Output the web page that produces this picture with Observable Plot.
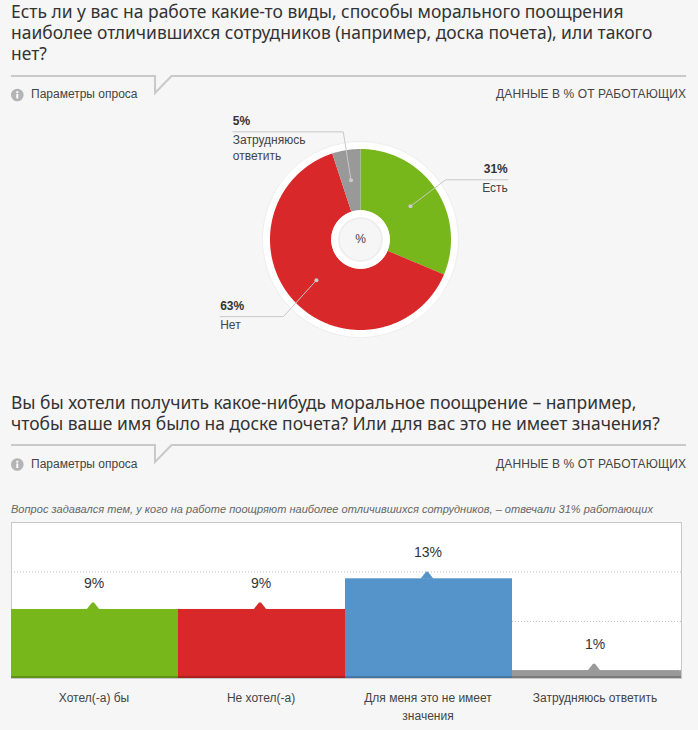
<!DOCTYPE html>
<html lang="ru"><head><meta charset="utf-8">
<script src="https://cdn.jsdelivr.net/npm/d3@7"></script>
<script src="https://cdn.jsdelivr.net/npm/@observablehq/plot@0.6"></script>
<style>
html,body{margin:0;padding:0;background:#f6f6f6;}
body{position:relative;width:698px;height:730px;overflow:hidden;font-family:"Liberation Sans",Arial,sans-serif;color:#444;}
.abs{position:absolute;}
.title{left:11px;width:680px;font:400 17.45px/21px "Noto Sans",sans-serif;color:#333;margin:0;white-space:nowrap;}
.small{font-size:12px;line-height:14px;color:#444;white-space:nowrap;}
.note{left:11px;top:503px;font:italic 11px/13px "Liberation Sans",Arial,sans-serif;letter-spacing:.03px;color:#666;white-space:nowrap;}
svg{display:block;}
.plot{position:absolute;left:0;}
</style></head>
<body>
<h2 class="abs title" style="top:1px">Есть ли у вас на работе какие-то виды, способы морального поощрения<br>наиболее отличившихся сотрудников (например, доска почета), или такого<br>нет?</h2>
<h2 class="abs title" style="top:392px">Вы бы хотели получить какое-нибудь моральное поощрение – например,<br>чтобы ваше имя было на доске почета? Или для вас это не имеет значения?</h2>
<div class="abs note">Вопрос задавался тем, у кого на работе поощряют наиболее отличившихся сотрудников, – отвечали 31% работающих</div>
<script>
// ---- data ----
const pieLabels = ["Есть", "Нет", "Затрудняюсь\nответить"];
const pieValues = [31, 63, 5];
const pieColors = ["#78b71b", "#d92829", "#999999"];

const barLabels = ["Хотел(-а) бы", "Не хотел(-а)", "Для меня это не имеет\nзначения", "Затрудняюсь ответить"];
const barValues = [9, 9, 13, 1];
const barColors = ["#78b71b", "#d92829", "#5594cb", "#999999"];
const barGrid = [1, 7.45, 13.9];

const sectionLabel = "Параметры опроса";
const unitsLabel = "ДАННЫЕ В % ОТ РАБОТАЮЩИХ";

// ---- section headers ----
function header(top, textTop, iconY) {
  const ns = "http://www.w3.org/2000/svg";
  const s = document.createElementNS(ns, "svg");
  s.setAttribute("width", 698); s.setAttribute("height", 36);
  s.setAttribute("class", "abs"); s.style.left = 0; s.style.top = top + "px";
  s.innerHTML = `<path d="M11 1H155V18L171.5 1H686" fill="none" stroke="#c9c9c9" stroke-width="2"/>
    <circle cx="17.3" cy="${iconY}" r="6.3" fill="#b4b4b4"/>
    <rect x="16.3" y="${iconY - 1}" width="2" height="4.5" fill="#fff"/><rect x="16.3" y="${iconY - 3.7}" width="2" height="1.8" fill="#fff"/>`;
  document.body.appendChild(s);
  const a = document.createElement("div");
  a.className = "abs small"; a.style.left = "31px"; a.style.top = textTop + "px"; a.textContent = sectionLabel;
  document.body.appendChild(a);
  const b = document.createElement("div");
  b.className = "abs small"; b.style.right = "12px"; b.style.top = textTop + "px"; b.style.letterSpacing = ".08px"; b.textContent = unitsLabel;
  document.body.appendChild(b);
}
header(75, 87, 20); header(444, 457, 20.5);

// ---- pie ----
const pieRows = pieLabels.map((label, i) => ({label, value: pieValues[i], color: pieColors[i]}));
const arcs = d3.pie().sort(null).value(d => d.value)(pieRows);
const R = 90.5, R0 = 29.3;
const polar = (deg, r) => { const a = deg * Math.PI / 180; return [r * Math.sin(a), -r * Math.cos(a)]; };
const slicePts = arcs.flatMap(a => {
  const s = a.startAngle * 180 / Math.PI, e = a.endAngle * 180 / Math.PI;
  const angs = d3.range(s, e, 0.5).concat([e]);
  const pts = angs.map(t => polar(t, R)).concat(angs.slice().reverse().map(t => polar(t, R0)));
  return pts.map(([x, y]) => ({x, y, key: a.data.label, color: a.data.color}));
});
// leader layout per slice
const elbowOffset = [-1.4, -2.3, 0], elbowR = [104, 109, 109], labelEndX = [147.3, -140.3, -127.7], labelAnchor = ["end", "start", "start"];
const leaders = arcs.flatMap((a, i) => {
  const mid = (a.startAngle + a.endAngle) / 2 * 180 / Math.PI;
  const p0 = polar(mid, 60), p1 = polar(mid + elbowOffset[i], elbowR[i]);
  return [p0, p1, [labelEndX[i], p1[1]]].map(([x, y]) => ({x, y, key: a.data.label}));
});
const leaderRows = arcs.map((a, i) => {
  const mid = (a.startAngle + a.endAngle) / 2 * 180 / Math.PI;
  const d = polar(mid, 60), e = polar(mid + elbowOffset[i], elbowR[i]);
  return {dx: d[0], dy: d[1], x: labelEndX[i], y: e[1], label: a.data.label, pct: a.data.value + "%", anchor: labelAnchor[i]};
});
const labelMarks = ["start", "end"].flatMap(anchor => {
  const rows = leaderRows.filter(d => d.anchor === anchor);
  return [
    Plot.text(rows, {x: "x", y: "y", text: "pct", textAnchor: anchor, lineAnchor: "bottom", dy: -6.5, fontWeight: "bold", fontSize: 12, fill: "#333", fontFamily: "Liberation Sans"}),
    Plot.text(rows, {x: "x", y: "y", text: "label", textAnchor: anchor, lineAnchor: "top", dy: 1, lineHeight: 1.3, fontSize: 12, fill: "#444", fontFamily: "Liberation Sans"})
  ];
});

const piePlot = Plot.plot({
  width: 698, height: 280, margin: 0,
  x: {axis: null, domain: [-360, 338], range: [0, 698]},
  y: {axis: null, domain: [-139, 141], range: [0, 280]},
  marks: [
    Plot.dot([0], {x: () => 0, y: () => 0, r: 98, fill: "#fff", stroke: "#eeeeee", strokeWidth: 1}),
    Plot.line(slicePts, {x: "x", y: "y", z: "key", fill: d => d.color, stroke: "none"}),
    Plot.dot([0], {x: () => 0, y: () => 0, r: 29.3, fill: "#fff"}),
    Plot.dot([0], {x: () => 0, y: () => 0, r: 21.5, fill: "#f6f6f6", stroke: "#ececec"}),
    Plot.text(["%"], {x: () => 0, y: () => 0, text: d => d, fontSize: 12, fill: "#444", fontFamily: "Liberation Sans"}),
    Plot.line(leaders, {x: "x", y: "y", z: "key", stroke: "#c8c8c8", strokeWidth: 1}),
    Plot.dot(leaderRows, {x: "dx", y: "dy", r: 2, fill: "#cccccc"}),
    ...labelMarks
  ]
});
piePlot.setAttribute("class", "plot"); piePlot.style.top = "100px"; document.body.appendChild(piePlot);

// ---- bars ----
const barRows = barLabels.map((label, i) => ({label, value: barValues[i], color: barColors[i]}));
const marker = {draw(c) { c.moveTo(-6.5, 0); c.lineTo(-1, -7); c.lineTo(1, -7); c.lineTo(6.5, 0); c.closePath(); }};
const barPlot = Plot.plot({
  width: 698, height: 230,
  marginTop: 22, marginBottom: 52, marginLeft: 11, marginRight: 17,
  x: {domain: barLabels, range: [11, 679], padding: 0, label: null},
  y: {domain: [0, 20.34], axis: null},
  marks: [
    Plot.frame({fill: "#fff", stroke: "#c8c8c8"}),
    Plot.ruleY(barGrid, {stroke: "#bdbdbd", strokeDasharray: "1,2", strokeWidth: 1}),
    Plot.barY(barRows, {x: "label", y: "value", fill: d => d.color}),
    Plot.barY(barRows.slice(-1), {x: "label", y: "value", fill: d => d.color, insetRight: -2}),
    Plot.barY(barRows, {x: "label", y1: 0, y2: 0.26, fill: "#000", fillOpacity: 0.2}),
    Plot.barY(barRows.slice(-1), {x: "label", y1: 0, y2: 0.26, fill: "#000", fillOpacity: 0.2, insetLeft: 167, insetRight: -2}),
    Plot.dot(barRows, {x: "label", y: "value", fill: d => d.color, symbol: marker, dx: -2}),
    Plot.text(barRows, {x: "label", y: "value", text: d => d.value + "%", dy: -26, dx: -1, fontSize: 14, fill: "#333", fontFamily: "Liberation Sans"}),
    Plot.axisX({tickSize: 0, tickPadding: 11, dx: -1, lineAnchor: "top", lineHeight: 1.5, fontSize: 12, fill: "#444", fontFamily: "Liberation Sans", label: null})
  ]
});
barPlot.setAttribute("class", "plot"); barPlot.style.top = "500px"; document.body.appendChild(barPlot);
</script>
</body></html>
